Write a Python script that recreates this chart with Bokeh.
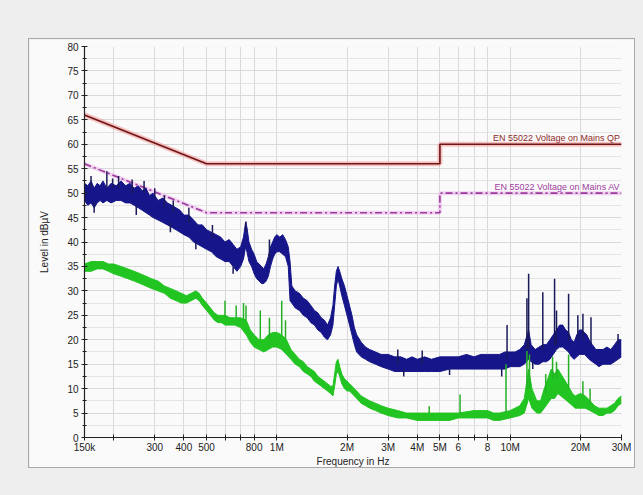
from bokeh.plotting import figure
from bokeh.models import Range1d, FixedTicker, ColumnDataSource
from bokeh.layouts import column
from bokeh.core.properties import value
from bokeh.embed import file_html
from bokeh.resources import INLINE

# ---------------- data (frequencies in MHz, levels in dBuV) ----------------
x_ticks = [0.15, 0.2, 0.3, 0.4, 0.5, 0.6, 0.7, 0.8, 1, 2, 3, 4, 5, 6, 7, 8, 10, 20, 30]
x_tick_labels = {0.15: "150k", 0.2: "", 0.3: "300", 0.4: "400", 0.5: "500", 0.6: "", 0.7: "",
                 0.8: "800", 1: "1M", 2: "2M", 3: "3M", 4: "4M", 5: "5M", 6: "6", 7: "",
                 8: "8", 10: "10M", 20: "20M", 30: "30M"}
y_ticks = [0, 5, 10, 15, 20, 25, 30, 35, 40, 45, 50, 55, 60, 65, 70, 75, 80]

qp_f = [0.15, 0.5, 5, 5, 30]
qp_v = [66, 56, 56, 60, 60]
av_f = [0.15, 0.5, 5, 5, 30]
av_v = [56, 46, 46, 50, 50]
qp_label = "EN 55022 Voltage on Mains QP"
av_label = "EN 55022 Voltage on Mains AV"

blue_f = [0.150, 0.155, 0.160, 0.165, 0.170, 0.175, 0.180, 0.187, 0.195, 0.205, 0.215, 0.225,
          0.235, 0.245, 0.255, 0.265, 0.275, 0.285, 0.295, 0.31, 0.325, 0.34, 0.355, 0.37,
          0.385, 0.40, 0.42, 0.44, 0.46, 0.48, 0.50, 0.525, 0.55, 0.575, 0.60, 0.625, 0.65,
          0.675, 0.70, 0.72, 0.735, 0.745, 0.76, 0.78, 0.80, 0.82, 0.84, 0.86, 0.88, 0.90,
          0.92, 0.94, 0.96, 0.98, 1.00, 1.03, 1.06, 1.09, 1.12, 1.14, 1.16, 1.20, 1.25, 1.30,
          1.35, 1.40, 1.45, 1.50, 1.55, 1.60, 1.65, 1.70, 1.74, 1.77, 1.80, 1.83, 1.86, 1.90,
          1.95, 2.00, 2.05, 2.10, 2.15, 2.20, 2.30, 2.40, 2.50, 2.65, 2.80, 3.0, 3.2, 3.4,
          3.6, 3.8, 4.0, 4.3, 4.6, 5.0, 5.5, 6.0, 6.5, 7.0, 7.5, 8.0, 8.5, 9.0, 9.5, 10.0,
          10.5, 11.0, 11.5, 12.0, 12.3, 12.8, 13.3, 13.8, 14.3, 14.8, 15.3, 15.8, 16.3, 16.8,
          17.3, 17.8, 18.3, 18.8, 19.3, 19.8, 20.3, 20.8, 21.3, 21.8, 22.5, 23.3, 24, 25, 26,
          27, 28, 29, 30]
blue_lo = [48.5, 47.5, 48, 47, 48, 48.5, 48, 48.5, 48, 48.5, 48.5, 48,
           48, 47.5, 47, 46.5, 46, 45.5, 45, 44.5, 44, 43.5, 43, 42.5,
           42, 41.5, 41, 40, 39.5, 39, 38.5, 38, 37, 36.5, 36, 36, 35,
           34, 35, 36.5, 39, 38, 36, 35, 33.5, 32.5, 32, 31.5, 31.5, 32,
           33, 35, 36.5, 37.5, 38, 38, 37.5, 37, 35, 28, 27.5, 26.5, 26, 25,
           24.5, 23.5, 23, 22, 21.5, 20.5, 20, 21, 23, 27, 31, 32.5, 31, 29,
           27, 25, 23, 21, 19, 17.5, 16.5, 16, 15.5, 15, 14.5, 14, 13.5, 13.5,
           13.5, 13.5, 13.5, 13.5, 13.5, 13.5, 14, 14, 14, 14, 14, 14, 14, 14, 14, 14.5,
           14.5, 14.5, 15, 16, 15.5, 15, 15, 15.5, 15.5, 16, 17, 18, 18.5, 18.5,
           18, 17.5, 16.5, 16, 16.5, 17, 17, 17, 16.5, 16, 15.5, 15, 14.5, 15, 15,
           15, 15.5, 16, 16.5]
blue_hi = [52, 51.5, 52.5, 51, 52, 51.5, 52.5, 51, 52, 51.5, 52.5, 51.5,
           52, 51, 51.5, 50.5, 51, 49.5, 50, 48.5, 49, 48, 47.5, 47,
           46.5, 45.5, 45.5, 44.5, 43.5, 43.5, 42.5, 42, 41.5, 41, 40, 40.5, 39.5,
           38.5, 39, 41, 44, 43, 40, 38.5, 37.5, 36, 35.5, 35, 34.5, 35.5,
           37, 39, 40, 41, 41.5, 41, 41.5, 40.5, 39, 36, 31, 30, 29.5, 28.5,
           28, 27, 26, 25.5, 24.5, 24, 23, 24.5, 27, 31, 34, 35, 34, 32.5,
           31, 29, 27, 25, 22.5, 21, 19.5, 18.5, 18, 17.5, 17, 17, 16.5, 16.5,
           16, 16.5, 16, 16.5, 16, 16.5, 16.5, 16.5, 17, 16.5, 17, 17, 17, 17, 17.5, 17.5,
           17.5, 18, 19, 22, 19, 18, 18.5, 19, 19, 20, 21, 22, 23, 23,
           22, 21.5, 20, 19.5, 21, 22, 22, 21.5, 21, 20, 19, 18, 18, 18, 18.5,
           18, 19, 20, 20]

blue_spike_f = [0.160, 0.187, 0.198, 0.21, 0.24, 0.27, 0.30, 0.33, 0.36, 0.42, 0.53, 0.738,
                0.93, 3.3, 4.2, 9.7, 11.8, 12.0, 13.8, 15.5, 15.8, 17.8, 19.5, 20.5, 22.2, 29.0,
                0.165, 0.25, 0.35, 0.45, 0.65, 3.5, 5.5, 9.2, 12.5]
blue_spike_lo = [51, 51, 51, 51, 50, 50, 49, 47, 46, 44, 41, 42,
                 36, 15, 15, 16, 18, 18, 18, 19, 19, 20, 20, 20, 19, 19,
                 46, 45.5, 42, 38.5, 33.5, 12.5, 12.8, 12.5, 14]
blue_spike_hi = [53.5, 54.5, 53, 53.5, 52.8, 52.5, 51, 49.5, 48.5, 47, 43.5, 44.2,
                 40.5, 18, 17.8, 23, 28.5, 33.5, 29.7, 32.5, 26, 29.4, 25, 25.3, 24.6, 21.2,
                 48, 47.5, 44, 40, 35, 14, 14, 14, 15.5]

green_f = [0.150, 0.160, 0.170, 0.180, 0.190, 0.200, 0.215, 0.230, 0.245, 0.26, 0.275, 0.29,
           0.31, 0.33, 0.35, 0.37, 0.39, 0.41, 0.43, 0.45, 0.465, 0.48, 0.50, 0.52, 0.54,
           0.56, 0.58, 0.60, 0.63, 0.66, 0.70, 0.74, 0.77, 0.80, 0.84, 0.88, 0.92, 0.96,
           1.00, 1.05, 1.10, 1.15, 1.20, 1.25, 1.30, 1.35, 1.40, 1.45, 1.50, 1.55, 1.60,
           1.65, 1.70, 1.74, 1.77, 1.80, 1.83, 1.86, 1.90, 1.95, 2.00, 2.05, 2.10, 2.15,
           2.20, 2.30, 2.40, 2.50, 2.65, 2.80, 3.0, 3.3, 3.6, 4.0, 4.5, 5.0, 5.5, 6.0, 7.0,
           8.0, 8.5, 9.0, 10.0, 11.0, 11.5, 12.0, 12.4, 13.0, 13.5, 14.0, 14.5, 15.0, 15.5,
           16.0, 16.5, 17.0, 17.5, 18.0, 18.5, 19.0, 20.0, 21.0, 22.0, 23.0, 24, 25, 26, 27,
           28, 29, 30]
green_lo = [34, 34, 34.5, 34.5, 34, 33.5, 33, 32.5, 32, 31.5, 31, 30.5,
            30, 29.5, 28.5, 28, 27.5, 27.5, 28, 28.5, 28, 27, 26, 25, 24,
            23.5, 23.5, 23, 23, 23, 22.5, 21, 19.5, 18.5, 18, 17.5, 18, 18.5,
            18.5, 18, 17, 16, 15, 14.5, 13.5, 13, 12.5, 11.5, 11, 10.5, 10,
            9.5, 9, 8.5, 10.5, 13, 13.5, 12.5, 11, 10, 9.5, 9.5, 9, 8.5,
            8, 7, 6.5, 6, 5.5, 5, 4.5, 4, 4, 3.5, 3.5, 3.5, 3.5, 4, 4,
            4, 3.5, 3.5, 4, 4.5, 5, 8, 6, 5, 5, 6, 7, 8, 8,
            9, 8.5, 8, 7.5, 7, 6.5, 6, 6, 6, 5.5, 5, 4.5, 4.5, 5, 5,
            5.5, 6.5, 7]
green_hi = [35.5, 36, 36, 36, 35.5, 35.5, 35, 34.5, 34, 33.5, 33, 32.5,
            32, 31, 30.5, 30, 29.5, 29, 29.5, 30, 29.5, 28.5, 27.5, 26.5, 25.5,
            25, 25, 25, 24.5, 24.5, 24.5, 24, 22, 21, 20, 20, 21, 21.5,
            21.5, 21, 20, 18, 17, 16, 15.5, 14.5, 14, 13.5, 12.5, 12, 11.5,
            11, 10.5, 10.5, 13, 15.5, 16, 14.5, 13, 12, 11.5, 11, 10.5, 10,
            9.5, 8.5, 8, 7.5, 7, 6.5, 6, 5.5, 5, 5, 5, 5, 5, 5, 5.5,
            5.5, 5, 5, 5.5, 6.5, 8, 14, 10, 7.5, 7.5, 10, 12, 14, 13,
            14, 13, 12, 11, 10, 9, 8.5, 9, 8.5, 7.5, 6.5, 6, 6, 6, 6.5,
            7, 8, 8.5]

green_spike_f = [0.60, 0.67, 0.72, 0.738, 0.85, 0.93, 1.05, 1.09, 4.5, 6.1, 9.6, 11.8, 12.1,
                 14.2, 15.2, 15.8, 17.8, 20.5, 22.0]
green_spike_lo = [24.5, 24.5, 24, 24, 20, 20, 21, 20, 5, 5, 5, 10, 10, 9, 12, 12, 10, 8.5, 7]
green_spike_hi = [28, 27, 27.5, 27, 26, 24.5, 28, 24, 6.4, 8.8, 15, 17.7, 17, 13, 16.5, 15.5,
                  17, 11.5, 10]

# ---------------- figure (the framed panel) ----------------
FONT = "Liberation Sans"
p = figure(width=607, height=430, x_axis_type="log",
           x_range=Range1d(0.15, 30), y_range=Range1d(0, 80),
           output_backend="svg", toolbar_location=None,
           min_border_left=55, min_border_right=15, min_border_top=7, min_border_bottom=31)
p.border_fill_color = "#fafafa"
p.background_fill_color = "#fafafa"
p.outline_line_color = None
p.styles = {"border": "1px solid #a8a8a8"}

minor_y = [t + 2.5 for t in y_ticks[:-1]]
p.yaxis.ticker = FixedTicker(ticks=y_ticks, minor_ticks=minor_y)
p.xaxis.ticker = FixedTicker(ticks=x_ticks, minor_ticks=[])
p.xaxis.major_label_overrides = x_tick_labels

for ax in (p.xaxis[0], p.yaxis[0]):
    ax.axis_line_color = "#222222"
    ax.axis_line_width = 1.2
    ax.major_tick_line_color = "#222222"
    ax.minor_tick_line_color = "#222222"
    ax.major_tick_in = 3
    ax.major_tick_out = 3
    ax.minor_tick_in = 2
    ax.minor_tick_out = 2
    ax.major_label_text_font = FONT
    ax.major_label_text_font_size = "10px"
    ax.major_label_text_color = "#222222"
    ax.axis_label_text_font = FONT
    ax.axis_label_text_font_size = "10px"
    ax.axis_label_text_font_style = "normal"
    ax.axis_label_text_color = "#222222"

p.xaxis.axis_label = "Frequency in Hz"
p.yaxis.axis_label = "Level in dBµV"
p.xaxis.major_label_standoff = 1
p.xaxis.axis_label_standoff = 0
p.yaxis.major_label_standoff = 3
p.yaxis.axis_label_standoff = 14

p.xgrid.grid_line_color = "#d9d9d9"
p.ygrid.grid_line_color = "#d9d9d9"
p.ygrid.minor_grid_line_color = "#e4e4e4"

# limit lines (glow + line)
p.line(qp_f, qp_v, line_color="#f2a8a8", line_width=5, line_alpha=0.7)
p.line(qp_f, qp_v, line_color="#6e1616", line_width=1.6)
p.line(av_f, av_v, line_color="#ecc0ec", line_width=4, line_alpha=0.7)
p.line(av_f, av_v, line_color="#9a3a9a", line_width=1.6, line_dash="7 3 2 3")

p.text(x=[qp_f[-1] * 0.985], y=[qp_v[-1]], text=[qp_label], text_align="right",
       text_baseline="bottom", text_font=value(FONT), text_font_size="9px",
       text_color="#8e2a2a", y_offset=-1)
p.text(x=[av_f[-1] * 0.985], y=[av_v[-1]], text=[av_label], text_align="right",
       text_baseline="bottom", text_font=value(FONT), text_font_size="9px",
       text_color="#a040a0", y_offset=-1)

# blue trace
bsrc = ColumnDataSource(dict(f=blue_f, lo=blue_lo, hi=blue_hi))
p.varea(x="f", y1="lo", y2="hi", source=bsrc, fill_color="#16168a")
p.line(x="f", y="hi", source=bsrc, line_color="#16168a", line_width=1)
p.line(x="f", y="lo", source=bsrc, line_color="#16168a", line_width=1)
p.segment(x0=blue_spike_f, y0=blue_spike_lo, x1=blue_spike_f, y1=blue_spike_hi,
          line_color="#1a1a5a", line_width=1.5)

# green trace
gsrc = ColumnDataSource(dict(f=green_f, lo=green_lo, hi=green_hi))
p.varea(x="f", y1="lo", y2="hi", source=gsrc, fill_color="#22c422")
p.line(x="f", y="hi", source=gsrc, line_color="#22c422", line_width=1)
p.line(x="f", y="lo", source=gsrc, line_color="#22c422", line_width=1)
p.segment(x0=green_spike_f, y0=green_spike_lo, x1=green_spike_f, y1=green_spike_hi,
          line_color="#25b025", line_width=1.5)

root = column(p, width=643, height=495,
              styles={"background-color": "#eeeeee", "padding-left": "28px",
                      "padding-top": "38px", "box-sizing": "border-box"})

open("out.html", "w").write(file_html(root, INLINE))
